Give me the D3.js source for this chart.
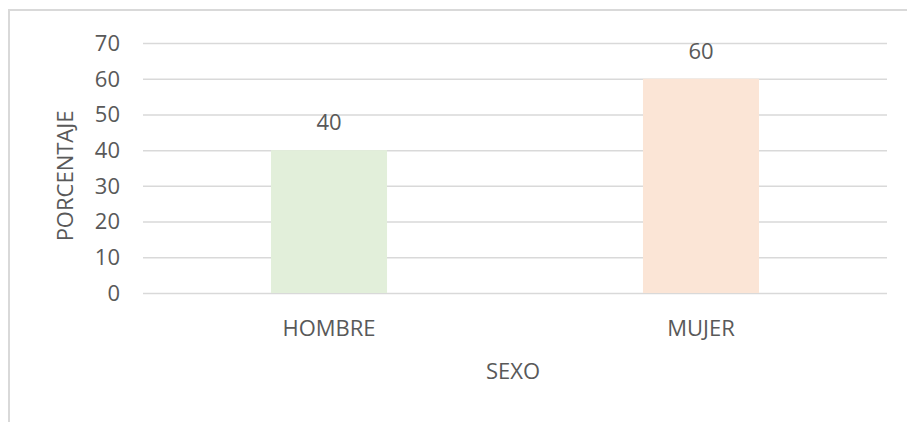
<!DOCTYPE html>
<meta charset="utf-8" />
<style>
    body { margin: 0; background: #fff; }
    text { font-family: "Open Sans", "Noto Sans", sans-serif; fill: #595959; }
    .grid line { stroke: #d9d9d9; stroke-width: 1.5px; }
    .grid path { display: none; }
</style>
<svg width="907" height="422"></svg>
<script src="https://d3js.org/d3.v7.min.js"></script>
<script>
    const categories = ['HOMBRE', 'MUJER'];
    const values = [40, 60];
    const colors = ['#e2efda', '#fbe5d6'];
    const yTicks = [0, 10, 20, 30, 40, 50, 60, 70];

    const svg = d3.select('svg');

    // chart frame, cut off on the right and bottom like the original
    svg.append('rect')
        .attr('x', 9).attr('y', 10)
        .attr('width', 920).attr('height', 430)
        .attr('fill', 'none')
        .attr('stroke', '#d9d9d9')
        .attr('stroke-width', 2);

    const margin = { top: 43, left: 143 };
    const width = 887 - 143;
    const height = 293 - 43;

    const x = d3.scaleBand().domain(categories).range([0, width]).paddingInner(0.688).paddingOuter(0.344);
    const y = d3.scaleLinear().domain([0, 70]).range([height, 0]);

    const g = svg.append('g').attr('transform', `translate(${margin.left},${margin.top})`);

    g.append('g')
        .attr('class', 'grid')
        .call(d3.axisLeft(y).tickValues(yTicks).tickSize(-width).tickFormat(''));

    g.selectAll('.bar')
        .data(values)
        .enter()
        .append('rect')
        .attr('class', 'bar')
        .attr('x', (d, i) => x(categories[i]))
        .attr('y', d => y(d))
        .attr('width', x.bandwidth())
        .attr('height', d => height - y(d))
        .attr('fill', (d, i) => colors[i]);

    // y tick labels
    g.selectAll('.ytick')
        .data(yTicks)
        .enter()
        .append('text')
        .attr('x', -23)
        .attr('y', d => y(d))
        .attr('dy', '0.36em')
        .attr('text-anchor', 'end')
        .style('font-size', '22px')
        .text(d => d);

    // category labels
    g.selectAll('.xtick')
        .data(categories)
        .enter()
        .append('text')
        .attr('x', d => x(d) + x.bandwidth() / 2)
        .attr('y', height + 43)
        .attr('text-anchor', 'middle')
        .style('font-size', '22px')
        .text(d => d);

    // value labels
    g.selectAll('.vlabel')
        .data(values)
        .enter()
        .append('text')
        .attr('x', (d, i) => x(categories[i]) + x.bandwidth() / 2)
        .attr('y', d => y(d) - 20)
        .attr('text-anchor', 'middle')
        .style('font-size', '22px')
        .text(d => d);

    // axis titles
    svg.append('text')
        .attr('transform', 'translate(73,176) rotate(-90)')
        .attr('text-anchor', 'middle')
        .style('font-size', '22px')
        .text('PORCENTAJE');

    svg.append('text')
        .attr('x', 513)
        .attr('y', 379)
        .attr('text-anchor', 'middle')
        .style('font-size', '22px')
        .text('SEXO');
</script>
